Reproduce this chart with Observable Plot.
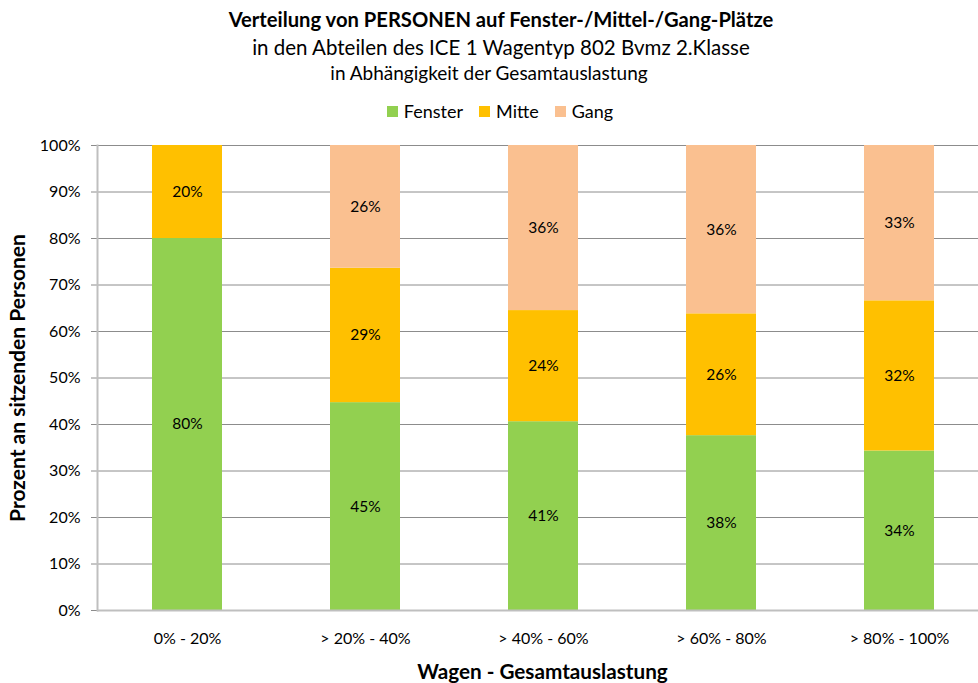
<!DOCTYPE html>
<html><head><meta charset="utf-8">
<script src="https://cdn.jsdelivr.net/npm/d3@7"></script>
<script src="https://cdn.jsdelivr.net/npm/@observablehq/plot@0.6"></script>
<style>
body{margin:0;background:#fff;font-family:Lato,sans-serif;overflow:hidden;width:978px;height:683px;color:#000}
#head{height:130px;position:relative;width:978px}
.t{position:absolute;left:0;width:978px;text-align:center;white-space:nowrap}
#legend{position:absolute;left:0;width:978px;top:100px;height:22px;display:flex;justify-content:center;align-items:center;font-size:18px;padding-left:22px;box-sizing:border-box}
.sw{display:inline-block;width:11px;height:11px;margin-right:6px}
.li{display:flex;align-items:center;margin:0 8px}
</style></head><body>
<div id="head">
  <div class="t" style="top:6px;left:12px;font-size:20.2px;line-height:26px;font-weight:bold">Verteilung von PERSONEN auf Fenster-/Mittel-/Gang-Plätze</div>
  <div class="t" style="top:34px;left:12px;font-size:20.5px;line-height:26px">in den Abteilen des ICE 1 Wagentyp 802 Bvmz 2.Klasse</div>
  <div class="t" style="top:62px;font-size:19px;line-height:22px">in Abhängigkeit der Gesamtauslastung</div>
  <div id="legend"></div>
</div>
<div id="chart"></div>
<script>
const categories = ["0% - 20%", "> 20% - 40%", "> 40% - 60%", "> 60% - 80%", "> 80% - 100%"];
const seatTypes = ["Fenster", "Mitte", "Gang"];
const fenster = [80, 44.7, 40.6, 37.6, 34.3];
const mitte = [20, 28.9, 23.9, 26.2, 32.3];
const gang = [0, 26.4, 35.5, 36.2, 33.4];
const colors = ["#92D050", "#FFC000", "#FAC090"];
const yTicks = [0, 10, 20, 30, 40, 50, 60, 70, 80, 90, 100];
const xTitle = "Wagen - Gesamtauslastung";
const yTitle = "Prozent an sitzenden Personen";

const series = [fenster, mitte, gang];
const rows = [];
categories.forEach((c, i) => {
  seatTypes.forEach((s, j) => {
    if (series[j][i] > 0) rows.push({cat: c, type: s, value: series[j][i]});
  });
});

const legend = document.getElementById("legend");
seatTypes.forEach((s, j) => {
  const it = document.createElement("div");
  it.className = "li";
  it.innerHTML = `<span class="sw" style="background:${colors[j]}"></span><span>${s}</span>`;
  legend.appendChild(it);
});

const chart = Plot.plot({
  width: 978,
  height: 553,
  marginTop: 15,
  marginBottom: 73,
  marginLeft: 97,
  marginRight: 0,
  style: {fontFamily: "Lato, sans-serif", fontSize: "16px", color: "#000", background: "#fff"},
  x: {domain: categories, range: [97, 988], paddingInner: 0.607, paddingOuter: 0.3035, label: null},
  y: {domain: [0, 100], label: null},
  color: {domain: seatTypes, range: colors},
  marks: [
    Plot.gridY(yTicks, {stroke: "#8c8c8c", strokeOpacity: 1}),
    Plot.barY(rows, {x: "cat", y: "value", fill: "type"}),
    Plot.text(rows, Plot.stackY({x: "cat", y: "value", z: "type", text: d => Math.round(d.value) + "%", fill: "#000", fontSize: 15.5})),
    Plot.axisY({ticks: yTicks, tickFormat: d => d + "%", tickSize: 6, tickPadding: 11, stroke: "#8c8c8c", fill: "#000", label: null, fontSize: 16}),
    Plot.axisX({tickSize: 0, tickPadding: 22, fill: "#000", label: null, fontSize: 16}),
    Plot.frame({anchor: "left", stroke: "#bfbfbf", strokeWidth: 2}),
    Plot.ruleY([0], {stroke: "#bfbfbf", strokeWidth: 2}),
    Plot.text([xTitle], {frameAnchor: "bottom", text: d => d, dy: 68, dx: 4.5, fontWeight: "bold", fontSize: 20.7, fill: "#000"}),
    Plot.text([yTitle], {frameAnchor: "left", text: d => d, dx: -79, rotate: -90, textAnchor: "middle", fontWeight: "bold", fontSize: 21, fill: "#000"})
  ]
});
document.getElementById("chart").appendChild(chart);
</script>
</body></html>
